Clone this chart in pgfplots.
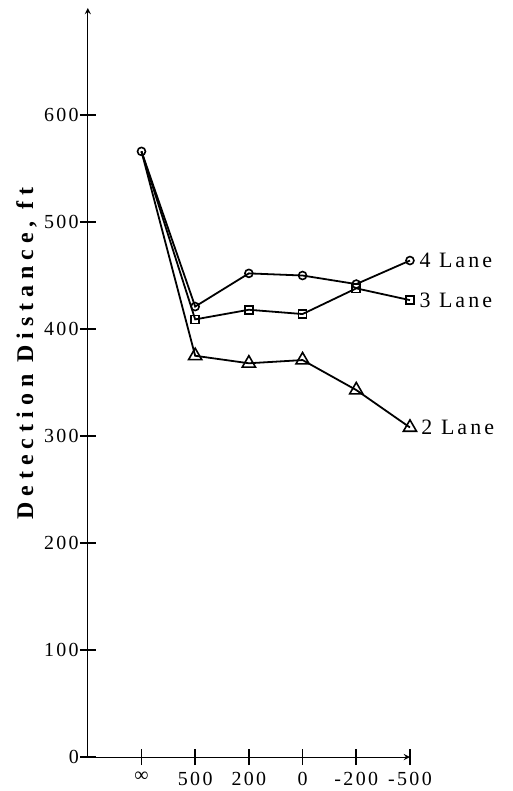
\documentclass[border=0pt]{standalone}
\usepackage{fontspec}
\setmainfont{Liberation Serif}[LetterSpace=12]
\newfontfamily\labelfont{Liberation Serif}[LetterSpace=14]
\newfontfamily\ylabfont{Liberation Serif}[LetterSpace=25]
\usepackage{pgfplots}
\pgfplotsset{compat=1.18}
\usetikzlibrary{arrows.meta}

\begin{document}
\begin{tikzpicture}[>={Straight Barb[length=0.1pt,width=0.1pt]}, line width=0.9pt]
\begin{axis}[
    at={(0,0)}, anchor=south west,
    scale only axis,
    width=161.5pt, height=375.5pt,
    axis lines=left,
    xmin=-1, xmax=5,
    ymin=0, ymax=700,
    xtick={0,1,2,3,4,5},
    xticklabels={∞,500,200,0,-200,-500},
    ytick={0,100,200,300,400,500,600},
    yticklabels={0,100,200,300,400,500,600},
    major tick length=8pt,
    tick style={black, line width=0.8pt},
    tick label style={font=\fontsize{10}{12}\selectfont},
    xticklabel style={yshift=0pt},
    yticklabel style={xshift=3pt},
    ylabel={\ylabfont\bfseries Detection Distance, ft},
    ylabel style={font=\fontsize{12}{14}\selectfont,
        at={(axis description cs:-0.19,0.539)}, anchor=center},
    clip=false,
]
% 4 Lane
\addplot[black, line width=0.9pt, mark=o, mark size=2pt, mark options={solid, line width=0.8pt}] coordinates {
    (0,566) (1,421) (2,452) (3,450) (4,442) (5,464)
} node[pos=1, right, xshift=1pt, font=\labelfont\fontsize{11}{13}\selectfont] {4 Lane};
% 3 Lane
\addplot[black, line width=0.9pt, mark=square, mark size=2pt, mark indices={2,3,4,5,6}, mark options={solid, line width=0.8pt}] coordinates {
    (0,566) (1,409) (2,418) (3,414) (4,438) (5,427)
} node[pos=1, right, xshift=1pt, font=\labelfont\fontsize{11}{13}\selectfont] {3 Lane};
% 2 Lane
\addplot[black, line width=0.9pt, mark=triangle, mark size=3.8pt, mark indices={2,3,4,5,6}, mark options={solid, line width=0.8pt}] coordinates {
    (0,566) (1,375) (2,368) (3,371) (4,343) (5,308)
} node[pos=1, right, xshift=2pt, font=\labelfont\fontsize{11}{13}\selectfont] {2 Lane};
\end{axis}
\pgfresetboundingbox
\path[use as bounding box] (-44pt,-17pt) rectangle (213pt,379.5pt);
\end{tikzpicture}
\end{document}
